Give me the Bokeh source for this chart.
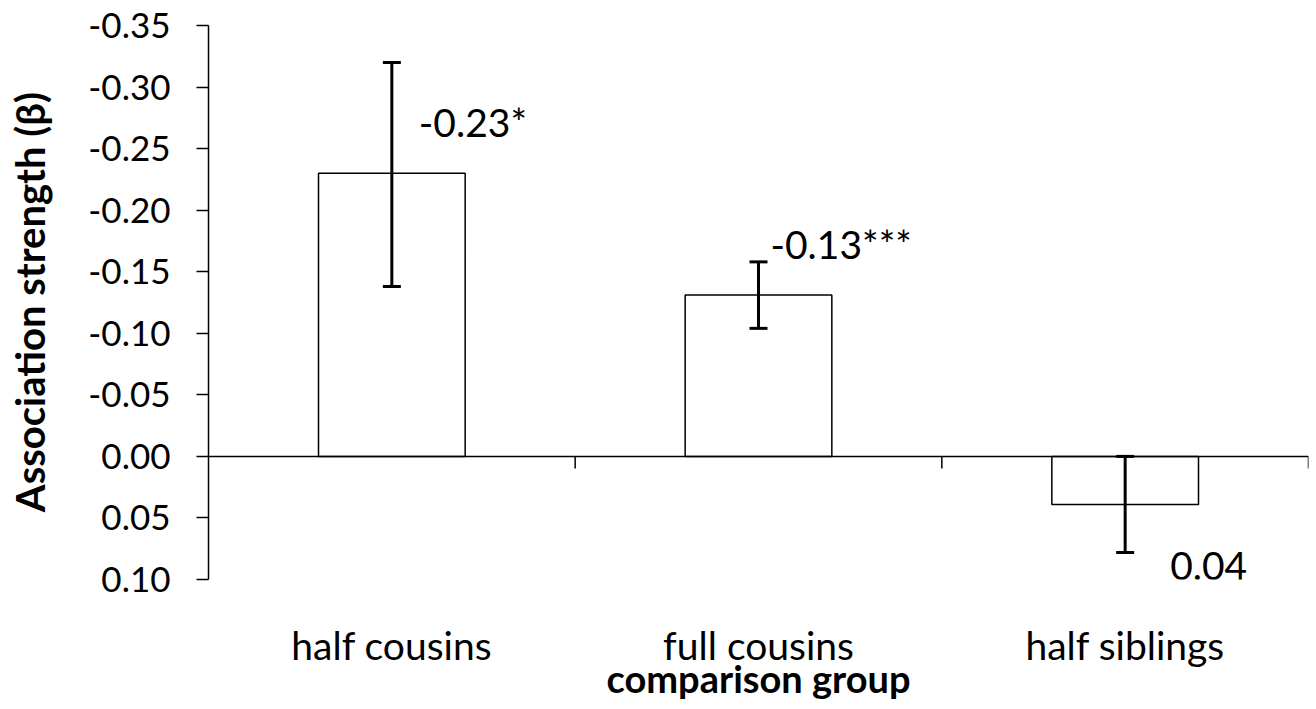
import math
from bokeh.plotting import figure
from bokeh.models import (ColumnDataSource, Range1d, FixedTicker, Span, LabelSet,
                          NumeralTickFormatter, Whisker, TeeHead)
from bokeh.core.properties import value
from bokeh.embed import file_html
from bokeh.resources import INLINE

# ---- data ----
categories = ["half cousins", "full cousins", "half siblings"]
beta = [-0.23, -0.131, 0.039]
err_low = [-0.320, -0.158, 0.0]
err_high = [-0.138, -0.104, 0.078]
labels = ["-0.23*", "-0.13***", "0.04"]
y_ticks = [-0.35, -0.30, -0.25, -0.20, -0.15, -0.10, -0.05, 0.0, 0.05, 0.10]

# label placement (pixels, positive = right / up)
lab_dx = [27, 12, 45]
lab_dy = [51, 51, -62]

FONT = "Lato"
n = len(categories)
xc = [i + 0.5 for i in range(n)]
bounds = [i + 1 for i in range(n)]

src = ColumnDataSource(dict(x=xc, top=beta, lo=err_low, hi=err_high,
                            lab=labels, dx=lab_dx, dy=lab_dy))

p = figure(width=1310, height=703, output_backend="svg", toolbar_location=None,
           x_range=Range1d(0, n), y_range=Range1d(0.10, -0.35),
           min_border_left=208, min_border_right=2, min_border_top=25,
           min_border_bottom=123)
p.outline_line_color = None
p.grid.visible = False
p.background_fill_color = "white"
p.border_fill_color = "white"

# zero line with category-boundary ticks
p.add_layout(Span(location=0, dimension="width", line_color="black", line_width=1.5))
p.ray(x=bounds, y=[0] * n, length=12, length_units="screen",
      angle=-math.pi / 2, line_color="black", line_width=1.5)

# bars
p.vbar(x="x", top="top", bottom=0, width=0.4, source=src,
       fill_color="white", line_color="black", line_width=1.5)

# error bars
p.add_layout(Whisker(base="x", upper="hi", lower="lo", source=src, level="overlay",
                     line_width=3, line_color="black",
                     upper_head=TeeHead(size=18, line_width=3, line_color="black"),
                     lower_head=TeeHead(size=18, line_width=3, line_color="black")))

# value labels
p.add_layout(LabelSet(x="x", y="top", text="lab", x_offset="dx", y_offset="dy",
                      source=src, text_font=value(FONT), text_font_size=value("39px"),
                      text_align="left", text_baseline="middle",
                      text_color="black", level="overlay"))

# y axis
ya = p.yaxis[0]
ya.ticker = FixedTicker(ticks=y_ticks)
ya.formatter = NumeralTickFormatter(format="0.00")
ya.major_tick_out = 12
ya.major_tick_in = 0
ya.minor_tick_out = 0
ya.minor_tick_in = 0
ya.axis_line_width = 1.5
ya.major_tick_line_width = 1.5
ya.major_label_text_font = FONT
ya.major_label_text_font_size = "35px"
ya.major_label_text_color = "black"
ya.major_label_standoff = 26
ya.axis_label = "Association strength (β)"
ya.axis_label_text_font = FONT
ya.axis_label_text_font_style = "bold"
ya.axis_label_text_font_size = "40px"
ya.axis_label_text_color = "black"
ya.axis_label_standoff = 31

# bottom axis: category labels only
xa = p.xaxis[0]
xa.ticker = FixedTicker(ticks=xc)
xa.major_label_overrides = {x: c for x, c in zip(xc, categories)}
xa.axis_line_color = None
xa.major_tick_line_color = None
xa.minor_tick_line_color = None
xa.major_label_text_font = FONT
xa.major_label_text_font_size = "39px"
xa.major_label_text_color = "black"
xa.major_label_standoff = 36
xa.axis_label = "comparison group"
xa.axis_label_text_font = FONT
xa.axis_label_text_font_style = "bold"
xa.axis_label_text_font_size = "38px"
xa.axis_label_text_color = "black"
xa.axis_label_standoff = -16

open("out.html", "w").write(file_html(p, INLINE))
